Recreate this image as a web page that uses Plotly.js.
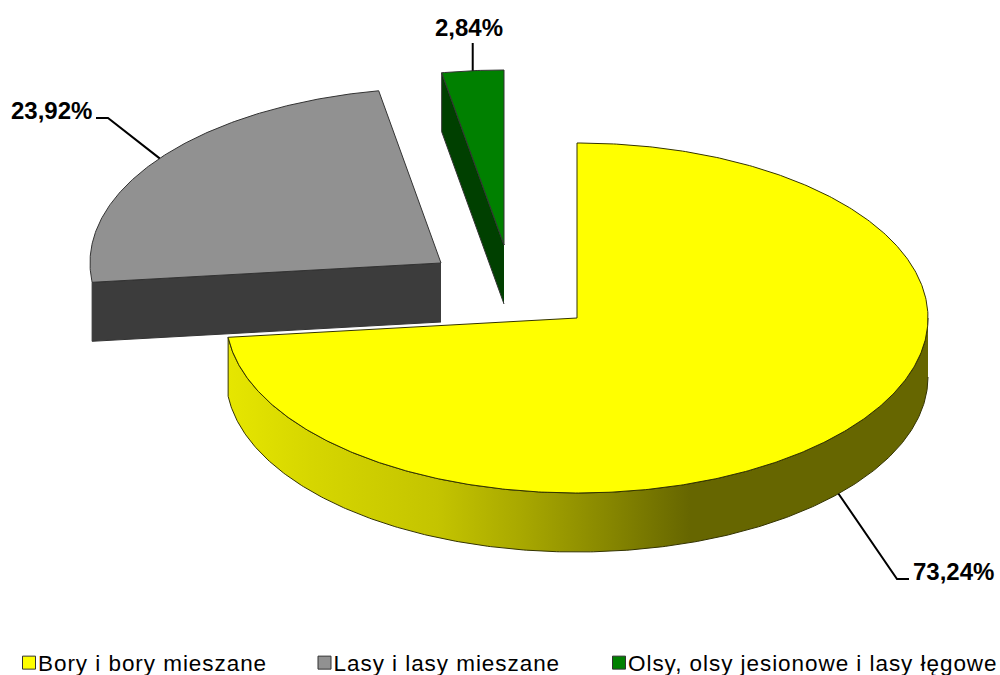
<!DOCTYPE html>
<html><head><meta charset="utf-8">
<script src="https://cdn.plot.ly/plotly-3.0.0.min.js"></script>
<style>html,body{margin:0;padding:0;background:#fff}#c{width:1000px;height:675px}
.legendtext,.legend2text,.legend3text{letter-spacing:0.95px}</style>
</head><body><div id="c"></div>
<script>
const categories = ["Bory i bory mieszane", "Lasy i lasy mieszane", "Olsy, olsy jesionowe i lasy łęgowe"];
const values = [73.24, 23.92, 2.84];
const labels = ["73,24%", "23,92%", "2,84%"];
const topColors = ["#ffff00", "#919191", "#008000"];
const sideColors = ["#666600", "#3c3c3c", "#004000"];

// Projection of the exploded 3D pie (picture pixels used as axis units)
const RX = 351, RY = 175, DEPTH = 59;
const apexX = [577, 441, 504];
const apexY = [318, 263, 245];
const OUTLINE = "#333300";

const total = values.reduce((a, b) => a + b, 0);
let acc = 0;
const slices = values.map((v, i) => {
  const a0 = acc / total * 360; acc += v;
  return {i, a0, a1: acc / total * 360, cx: apexX[i], cy: apexY[i]};
});
const pt = (s, deg, dz = 0) => {
  const r = deg * Math.PI / 180;
  return [s.cx + RX * Math.sin(r), s.cy - RY * Math.cos(r) + dz];
};
const arc = (s, a, b, dz = 0) => {
  const n = Math.max(2, Math.ceil(Math.abs(b - a) * 2)), out = [];
  for (let k = 0; k <= n; k++) out.push(pt(s, a + (b - a) * k / n, dz));
  return out;
};
const poly = (pts, fill, extra = {}) => Object.assign({
  type: "scatter", mode: "lines", x: pts.map(p => p[0]), y: pts.map(p => p[1]),
  fill: "toself", fillcolor: fill, line: {color: OUTLINE, width: 1},
  hoverinfo: "skip", showlegend: false
}, extra);

const traces = [];
const [yel, gry, grn] = slices;

// yellow outer wall with horizontal shading
const yWall = [...arc(yel, 90, yel.a1), ...arc(yel, yel.a1, 90, DEPTH)];
traces.push(poly(yWall, "#999900", {
  fillgradient: {type: "horizontal", colorscale: [
    [0, "#e6e600"], [0.12, "#d6d600"], [0.3, "#c4c400"], [0.42, "#a8a800"],
    [0.55, "#858500"], [0.66, "#666600"], [1, "#666600"]]}
}));
// grey cut face
const gA = pt(gry, gry.a0);
traces.push(poly([[gry.cx, gry.cy], gA, [gA[0], gA[1] + DEPTH], [gry.cx, gry.cy + DEPTH]], sideColors[1], {line: {color: "#333", width: 1}}));
// green cut face
const e = pt(grn, grn.a0);
traces.push(poly([[grn.cx, grn.cy], e, [e[0], e[1] + DEPTH], [grn.cx, grn.cy + DEPTH]], sideColors[2], {line: {color: "#333", width: 1}}));
// top faces
slices.forEach(s => {
  const pts = [[s.cx, s.cy], ...arc(s, s.a0, s.a1), [s.cx, s.cy]];
  traces.push(poly(pts, topColors[s.i], {line: {color: s.i ? "#333" : OUTLINE, width: 1}}));
});

// leader lines start at each slice's mid angle
const mid = s => (s.a0 + s.a1) / 2;
const grnStart = pt(grn, mid(grn));
const leaderPaths = [
  [pt(yel, mid(yel), DEPTH), [897, 579], [909, 579]],
  [pt(gry, mid(gry)), [108, 118], [96, 118]],
  [grnStart, [grnStart[0], 43]]
];
leaderPaths.forEach(p => traces.push({
  type: "scatter", mode: "lines", x: p.map(q => q[0]), y: p.map(q => q[1]),
  line: {color: "#000", width: 2}, hoverinfo: "skip", showlegend: false
}));

// legend entries, one legend per category so each sits at its own place
const legendKeys = ["legend", "legend2", "legend3"];
const legendX = [-0.002, 0.2935, 0.588];
categories.forEach((c, i) => traces.push({
  type: "scatter", mode: "markers", x: [null], y: [null], name: c, legend: "legend" + (i ? i + 1 : ""),
  marker: {symbol: "square", size: 13, color: topColors[i], line: {color: "#333", width: 1}},
  showlegend: true, hoverinfo: "skip"
}));

const labelPos = [[953, 571], [51, 110], [469, 27]];
const annotations = labels.map((t, i) => ({
  x: labelPos[i][0], y: labelPos[i][1], xref: "x", yref: "y", text: "<b>" + t + "</b>",
  showarrow: false, xanchor: "center", yanchor: "middle",
  font: {family: "Liberation Sans, Arial, sans-serif", size: 24, color: "#000"}
}));

const layout = {
  width: 1000, height: 675, margin: {l: 0, r: 0, t: 0, b: 0, autoexpand: false},
  paper_bgcolor: "#fff", plot_bgcolor: "#fff",
  xaxis: {range: [0, 1000], visible: false, fixedrange: true},
  yaxis: {range: [675, 0], visible: false, fixedrange: true},
  annotations,
  showlegend: true
};
legendKeys.forEach((k, i) => {
  layout[k] = {orientation: "h", x: legendX[i], xanchor: "left", y: 0.06, yanchor: "top",
    itemwidth: 30, bgcolor: "rgba(0,0,0,0)",
    font: {family: "Liberation Sans, Arial, sans-serif", size: 22.5, color: "#000"}};
});
Plotly.newPlot("c", traces, layout, {displayModeBar: false, staticPlot: true}).then(() => {
  // the reference keeps its swatches closer to the text than Plotly's minimum item width
  document.querySelectorAll("#c .legendsymbols").forEach(g => g.setAttribute("transform", "translate(11,0)"));
  // the reference's legend row sits lower than Plotly lets a legend go without clipping it
  document.querySelectorAll('#c .infolayer > g[class^="legend"]').forEach(g => {
    g.querySelectorAll("[clip-path]").forEach(n => n.removeAttribute("clip-path"));
    const m = /translate\(([-\d.]+)[ ,]+([-\d.]+)\)/.exec(g.getAttribute("transform") || "");
    if (m) g.setAttribute("transform", `translate(${m[1]},${+m[2] + 7})`);
  });
});
</script></body></html>
